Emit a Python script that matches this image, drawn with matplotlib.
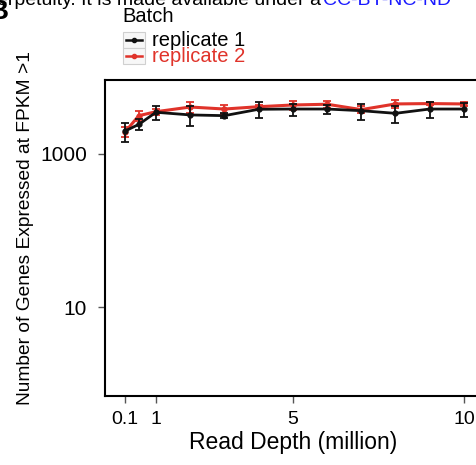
import matplotlib.pyplot as plt
from matplotlib.lines import Line2D
from matplotlib.patches import Rectangle

plt.rcParams['font.family'] = ['Liberation Sans', 'DejaVu Sans']

# read depth (million reads)
depth = [0.1, 0.5, 1, 2, 3, 4, 5, 6, 7, 8, 9, 10]
# number of genes, replicate 1 and 2
rep1 = [2000, 2440, 3510, 3240, 3170, 3840, 3870, 3870, 3680, 3400, 3870, 3870]
rep1_err = [550, 400, 750, 950, 260, 900, 700, 560, 860, 850, 950, 800]
rep2 = [1950, 3170, 3570, 4110, 3870, 4150, 4370, 4470, 3800, 4510, 4560, 4510]
rep2_err = [300, 440, 290, 670, 530, 210, 580, 520, 380, 550, 240, 230]

xticks = [0.1, 1, 5, 10]
xtick_labels = ['0.1', '1', '5', '10']
yticks = [10, 1000]
ytick_labels = ['10', '1000']
series_names = ['replicate 1', 'replicate 2']

black = '#111111'
red = '#e0332a'

W, H = 477, 465
fig = plt.figure(figsize=(W / 100, H / 100), dpi=100)
ax = fig.add_axes([105 / W, 69 / H, 376 / W, 316 / H])

ax.errorbar(depth, rep1, yerr=rep1_err, color=black, lw=2, marker='o', ms=3.5,
            capsize=3, elinewidth=1.3, capthick=1.3, zorder=3)
ax.errorbar(depth, rep2, yerr=rep2_err, color=red, lw=2.2, marker='o', ms=3.5,
            capsize=3, elinewidth=1.3, capthick=1.3, zorder=2)

ax.set_yscale('log')
ax.set_ylim(0.687, 9270)
ax.set_xlim(-0.49, 10.5)
ax.set_xticks(xticks)
ax.set_xticklabels(xtick_labels)
ax.set_yticks(yticks)
ax.set_yticklabels(ytick_labels)
ax.minorticks_off()
ax.tick_params(length=5, color='#555555', width=1)
ax.tick_params(axis='x', labelsize=14, pad=6)
ax.tick_params(axis='y', labelsize=15, pad=8)
for s in ax.spines.values():
    s.set_linewidth(1.5)
    s.set_color('black')

ax.set_xlabel('Read Depth (million)', fontsize=16.5, labelpad=2)
ax.set_ylabel('Number of Genes Expressed at FPKM >1', fontsize=13.8)
ax.yaxis.set_label_coords(-0.189, 0.533)

# legend drawn by hand (ggplot-style keys)
def px(x, y):
    return x / W, 1 - y / H

fig.text(*px(122, 16), 'Batch', fontsize=14.5, ha='left', va='center')
for i, (name, col) in enumerate(zip(series_names, [black, red])):
    yc = 40 + 16 * i
    fig.patches.append(Rectangle(px(123, yc + 8), 22 / W, 16 / H,
                                 transform=fig.transFigure, facecolor='#f7f7f7',
                                 edgecolor='#d0d0d0', lw=0.8))
    fig.add_artist(Line2D([126 / W, 142 / W], [px(0, yc)[1]] * 2, color=col, lw=1.8,
                          transform=fig.transFigure))
    fig.add_artist(Line2D([134 / W], [px(0, yc)[1]], color=col, marker='o', ms=3,
                          transform=fig.transFigure))
    fig.text(*px(152, yc), name, fontsize=14.5, color=col if i else 'black',
             ha='left', va='center')

# clipped page header from the source document
fig.text(*px(321, 5), 'perpetuity. It is made available under a', fontsize=14,
         ha='right', va='baseline')
fig.text(*px(323, 5), 'CC-BY-NC-ND', fontsize=14, color='#1a1aff',
         ha='left', va='baseline')
fig.text(*px(8, 19), 'B', fontsize=20, fontweight='bold', ha='right', va='baseline')

fig.savefig('out.png', dpi=100)
